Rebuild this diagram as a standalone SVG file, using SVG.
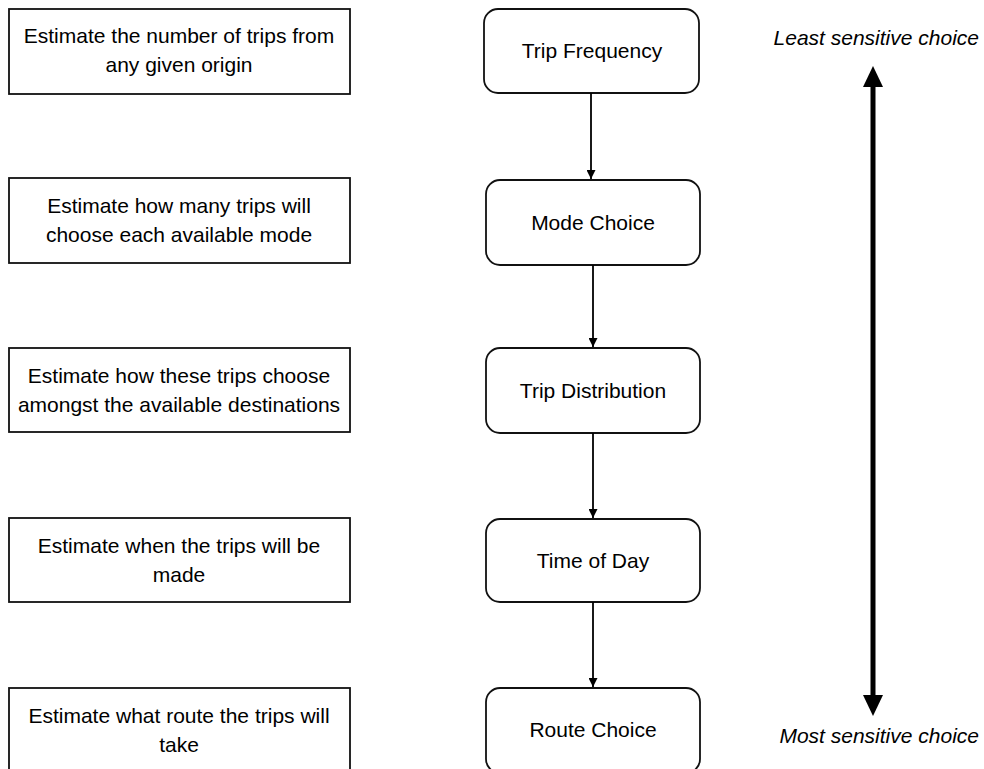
<svg xmlns="http://www.w3.org/2000/svg" width="984" height="769" viewBox="0 0 984 769">
<style>
.desc rect{fill:#fff;stroke:#111;stroke-width:1.8}
.step rect{fill:#fff;stroke:#111;stroke-width:1.8}
text{font-family:"Liberation Sans",Arial,sans-serif;font-size:21px;fill:#000}
.c{text-anchor:middle}
.it{font-style:italic;text-anchor:end}
.conn line{stroke:#000;stroke-width:1.8}
</style>
<defs>
<marker id="ah" markerWidth="9" markerHeight="9" refX="9" refY="4.5" orient="auto" markerUnits="userSpaceOnUse">
<path d="M0,0 L9,4.5 L0,9 Z" fill="#000"/>
</marker>
</defs>
<rect width="984" height="769" fill="#fff"/>
<g id="d1" class="desc"><rect x="9" y="9" width="341" height="85"/><text class="c" x="179" y="43">Estimate the number of trips from</text><text class="c" x="179" y="72">any given origin</text></g>
<g id="d2" class="desc"><rect x="9" y="178" width="341" height="85"/><text class="c" x="179" y="213">Estimate how many trips will</text><text class="c" x="179" y="242">choose each available mode</text></g>
<g id="d3" class="desc"><rect x="9" y="348" width="341" height="84"/><text class="c" x="179" y="383">Estimate how these trips choose</text><text class="c" x="179" y="412">amongst the available destinations</text></g>
<g id="d4" class="desc"><rect x="9" y="518" width="341" height="84"/><text class="c" x="179" y="553">Estimate when the trips will be</text><text class="c" x="179" y="582">made</text></g>
<g id="d5" class="desc"><rect x="9" y="688" width="341" height="85"/><text class="c" x="179" y="723">Estimate what route the trips will</text><text class="c" x="179" y="752">take</text></g>
<g id="s1" class="step"><rect x="484" y="9" width="215" height="84" rx="14"/><text class="c" x="592" y="58">Trip Frequency</text></g>
<g id="s2" class="step"><rect x="486" y="180" width="214" height="85" rx="14"/><text class="c" x="593" y="230">Mode Choice</text></g>
<g id="s3" class="step"><rect x="486" y="348" width="214" height="85" rx="14"/><text class="c" x="593" y="398">Trip Distribution</text></g>
<g id="s4" class="step"><rect x="486" y="519" width="214" height="83" rx="14"/><text class="c" x="593" y="568">Time of Day</text></g>
<g id="s5" class="step"><rect x="486" y="688" width="214" height="85" rx="14"/><text class="c" x="593" y="737">Route Choice</text></g>
<g id="connectors" class="conn">
<line x1="591" y1="93" x2="591" y2="179" marker-end="url(#ah)"/>
<line x1="593" y1="265" x2="593" y2="347" marker-end="url(#ah)"/>
<line x1="593" y1="433" x2="593" y2="518" marker-end="url(#ah)"/>
<line x1="593" y1="602" x2="593" y2="687" marker-end="url(#ah)"/>
<g id="sensitivity">
<rect x="870.5" y="85" width="5" height="612" fill="#000"/>
<path d="M863,87 L873,66 L883,87 Z" fill="#000"/>
<path d="M863,695 L873,716 L883,695 Z" fill="#000"/>
</g>
</g>
<g id="labels">
<text class="it" x="979" y="45">Least sensitive choice</text>
<text class="it" x="979" y="743">Most sensitive choice</text>
</g>
</svg>
